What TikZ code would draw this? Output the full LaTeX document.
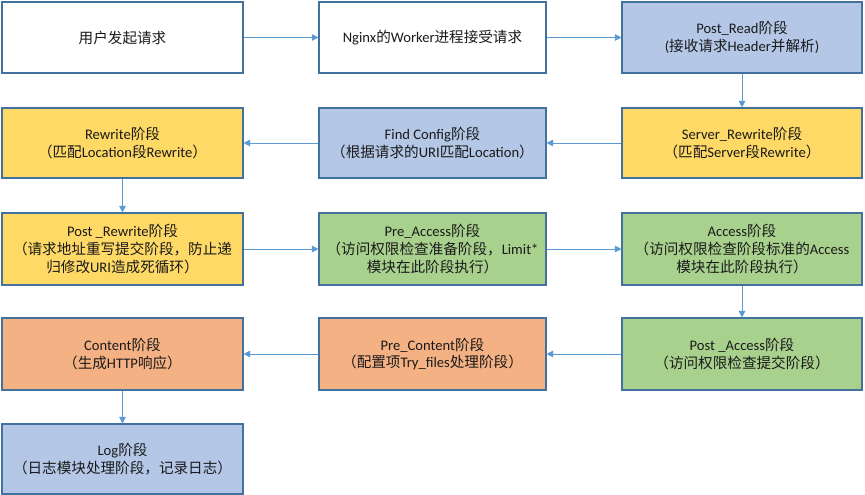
\documentclass[tikz,border=0pt]{standalone}
\usepackage{fontspec}
\setmainfont{Carlito}
\newfontfamily\cjk{Noto Sans CJK SC}
\usetikzlibrary{arrows.meta}
\definecolor{bluef}{HTML}{B4C7E7}
\definecolor{yellowf}{HTML}{FFD966}
\definecolor{greenf}{HTML}{A9D18E}
\definecolor{orangef}{HTML}{F4B183}
\definecolor{edgec}{HTML}{41719C}
\definecolor{arrc}{HTML}{5B9BD5}
\definecolor{txt}{HTML}{1A1A1A}
\newcommand\zh[1]{{\cjk #1}}
\begin{document}
\begin{tikzpicture}[x=1pt,y=-1pt,
  box/.style={draw=edgec, line width=1.1pt, align=center, text=txt,
    font=\fontsize{14.6}{17.6}\selectfont, inner sep=0pt},
  c1/.style={minimum width=241pt},
  c2/.style={minimum width=227pt},
  c3/.style={minimum width=240pt},
  r1/.style={minimum height=71pt},
  r2/.style={minimum height=70pt},
  r3/.style={minimum height=72pt},
  wbox/.style={box, fill=white},
  bbox/.style={box, fill=bluef},
  ybox/.style={box, fill=yellowf},
  gbox/.style={box, fill=greenf},
  obox/.style={box, fill=orangef},
  flow/.style={draw=arrc, line width=0.9pt, -{Triangle[length=6.5pt,width=6.5pt]}}]
\useasboundingbox (0,0) rectangle (865,495);
\fill[white] (0,0) rectangle (865,495);
% row 1
\node[wbox,c1,r1] (user) at (122.5,37.5) {\zh{用户发起请求}};
\node[wbox,c2,r1] (nginx) at (432.5,37.5) {Nginx\zh{的}Worker\zh{进程接受请求}};
\node[bbox,c3,r1] (postread) at (742,37.5) {Post\_Read\zh{阶段}\\(\zh{接收请求}Header\zh{并解析})};
% row 2
\node[ybox,c1,r2] (rewrite) at (122.5,143) {Rewrite\zh{阶段}\\\zh{（匹配}Location\zh{段}Rewrite\zh{）}};
\node[bbox,c2,r2] (findcfg) at (432.5,143) {Find Config\zh{阶段}\\\zh{（根据请求的}URI\zh{匹配}Location\zh{）}};
\node[ybox,c3,r2] (srvrw) at (742,143) {Server\_Rewrite\zh{阶段}\\\zh{（匹配}Server\zh{段}Rewrite\zh{）}};
% row 3
\node[ybox,c1,r3] (postrw) at (122.5,249) {Post \_Rewrite\zh{阶段}\\\zh{（请求地址重写提交阶段，防止递}\\\zh{归修改}URI\zh{造成死循环）}};
\node[gbox,c2,r3] (preacc) at (432.5,249) {Pre\_Access\zh{阶段}\\\zh{（访问权限检查准备阶段，}Limit*\\\zh{模块在此阶段执行）}};
\node[gbox,c3,r3] (access) at (742,249) {Access\zh{阶段}\\\zh{（访问权限检查阶段标准的}Access\\\zh{模块在此阶段执行）}};
% row 4
\node[obox,c1,r3] (content) at (122.5,354) {Content\zh{阶段}\\\zh{（生成}HTTP\zh{响应）}};
\node[obox,c2,r3] (precont) at (432.5,354) {Pre\_Content\zh{阶段}\\\zh{（配置项}Try\_files\zh{处理阶段）}};
\node[gbox,c3,r3] (postacc) at (742,354) {Post \_Access\zh{阶段}\\\zh{（访问权限检查提交阶段）}};
% row 5
\node[bbox,c1,r2] (log) at (122.5,459) {Log\zh{阶段}\\\zh{（日志模块处理阶段，记录日志）}};
% connectors
\draw[flow] (user) -- (nginx);
\draw[flow] (nginx) -- (postread);
\draw[flow] (postread) -- (srvrw);
\draw[flow] (srvrw) -- (findcfg);
\draw[flow] (findcfg) -- (rewrite);
\draw[flow] (rewrite) -- (postrw);
\draw[flow] (postrw) -- (preacc);
\draw[flow] (preacc) -- (access);
\draw[flow] (access) -- (postacc);
\draw[flow] (postacc) -- (precont);
\draw[flow] (precont) -- (content);
\draw[flow] (content) -- (log);
\end{tikzpicture}
\end{document}
